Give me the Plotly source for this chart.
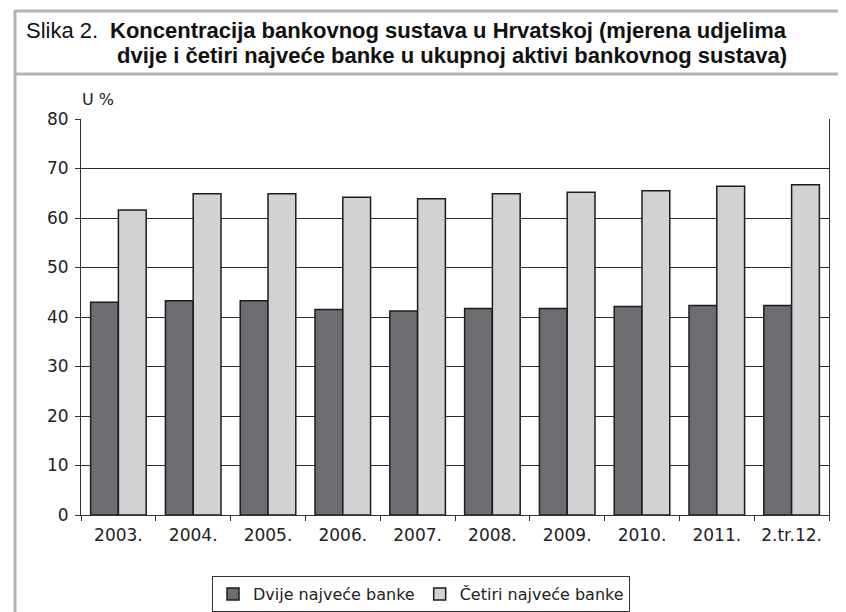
import plotly.graph_objects as go

categories = ["2003.", "2004.", "2005.", "2006.", "2007.", "2008.", "2009.", "2010.", "2011.", "2.tr.12."]
dvije = [43.0, 43.3, 43.3, 41.5, 41.2, 41.7, 41.7, 42.1, 42.3, 42.3]
cetiri = [61.6, 64.9, 64.9, 64.2, 63.9, 64.9, 65.2, 65.5, 66.4, 66.7]
series_names = ["Dvije najveće banke", "Četiri najveće banke"]
y_ticks = [0, 10, 20, 30, 40, 50, 60, 70, 80]

W, H = 846, 612
L, R, T, B = 73, 821, 111, 507


def px(x):
    return (x - L) / (R - L)


def py(y):
    return (B - y) / (B - T)


fig = go.Figure()
fig.add_trace(go.Bar(x=categories, y=dvije, name=series_names[0],
                     marker=dict(color="#6c6d71", line=dict(color="#1c1c1c", width=1.5))))
fig.add_trace(go.Bar(x=categories, y=cetiri, name=series_names[1],
                     marker=dict(color="#d1d2d4", line=dict(color="#1c1c1c", width=1.5))))

tick_font = dict(family="DejaVu Sans", size=17, color="#222")

fig.update_layout(
    width=W, height=H,
    margin=dict(l=L, r=W - R, t=T, b=H - B, autoexpand=False),
    paper_bgcolor="white", plot_bgcolor="white",
    barmode="group", bargap=0.257, bargroupgap=0,
    showlegend=True,
    legend=dict(orientation="h", x=px(413), xanchor="center", y=py(568), yanchor="top",
                bordercolor="#333", borderwidth=1, font=dict(family="DejaVu Sans", size=16, color="#222"),
                traceorder="normal", itemwidth=30),
    xaxis=dict(type="category", showline=True, linecolor="#333", linewidth=1,
               ticks="outside", tickson="boundaries", ticklen=5, tickcolor="#333",
               tickfont=tick_font, showgrid=False, ticklabelstandoff=5),
    yaxis=dict(range=[0, 80], tickvals=y_ticks, showline=True, mirror=True, linecolor="#333", linewidth=1,
               ticks="outside", ticklen=5, tickcolor="#333", tickfont=tick_font, ticklabelstandoff=3,
               showgrid=True, gridcolor="#2a2a2a", gridwidth=1, zeroline=False),
)

# header frame lines
frame = "#b3b3b3"
fig.add_shape(type="line", xref="paper", yref="paper", x0=px(7), x1=px(846), y0=py(3), y1=py(3),
              line=dict(color=frame, width=3))
fig.add_shape(type="line", xref="paper", yref="paper", x0=px(7), x1=px(846), y0=py(66), y1=py(66),
              line=dict(color=frame, width=3))
fig.add_shape(type="line", xref="paper", yref="paper", x0=px(7), x1=px(7), y0=py(2), y1=py(612),
              line=dict(color=frame, width=3))

title_font = dict(family="Liberation Sans", size=22, color="#111")
fig.add_annotation(xref="paper", yref="paper", x=px(16), y=py(23), xanchor="left", yanchor="middle",
                   text="Slika 2.", showarrow=False, font=title_font)
fig.add_annotation(xref="paper", yref="paper", x=px(100), y=py(23), xanchor="left", yanchor="middle",
                   text="<b>Koncentracija bankovnog sustava u Hrvatskoj (mjerena udjelima</b>",
                   showarrow=False, font=title_font)
fig.add_annotation(xref="paper", yref="paper", x=px(107), y=py(48), xanchor="left", yanchor="middle",
                   text="<b>dvije i četiri najveće banke u ukupnoj aktivi bankovnog sustava)</b>",
                   showarrow=False, font=title_font)
fig.add_annotation(xref="paper", yref="paper", x=px(72), y=py(92), xanchor="left", yanchor="middle",
                   text="U %", showarrow=False, font=dict(family="DejaVu Sans", size=16, color="#222"))

fig.write_html("out.html")
